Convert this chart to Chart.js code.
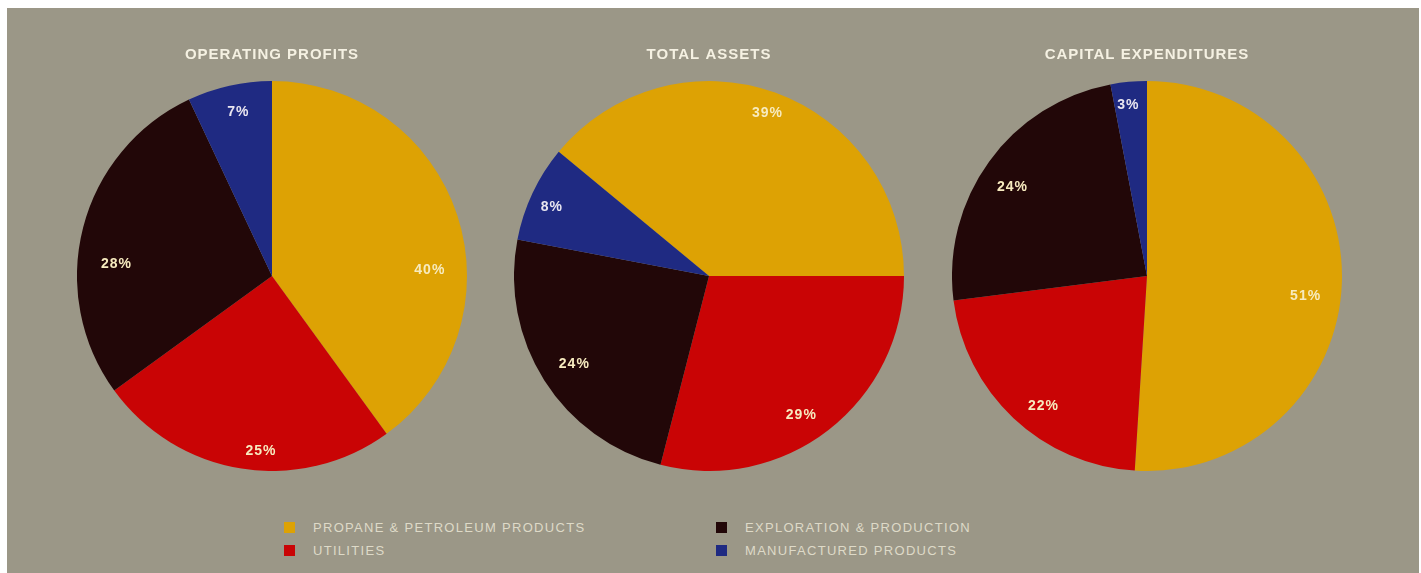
<!DOCTYPE html>
<html>
<head>
<meta charset="utf-8">
<script src="https://cdn.jsdelivr.net/npm/chart.js@4"></script>
<style>
  html, body { margin: 0; padding: 0; background: #ffffff; }
  body { width: 1421px; height: 573px; position: relative; overflow: hidden; font-family: "Liberation Sans", Arial, sans-serif; }
  #panel { position: absolute; left: 7px; top: 8px; width: 1412px; height: 565px; background: #9b9787; }
  .pie { position: absolute; top: 38px; width: 390px; height: 433px; }
  .legend { position: absolute; font-size: 13px; letter-spacing: 1.3px; color: #dedac8; line-height: 14px; white-space: nowrap; }
  .sw { position: absolute; width: 11px; height: 11px; }
</style>
</head>
<body>
<div id="panel"></div>
<div class="pie" style="left:77px"><canvas id="c1"></canvas></div>
<div class="pie" style="left:514px"><canvas id="c2"></canvas></div>
<div class="pie" style="left:952px"><canvas id="c3"></canvas></div>
<div id="legend"></div>
<script>
// ---- data ----
const categories = ["PROPANE & PETROLEUM PRODUCTS", "UTILITIES", "EXPLORATION & PRODUCTION", "MANUFACTURED PRODUCTS"];
const chartTitles = ["OPERATING PROFITS", "TOTAL ASSETS", "CAPITAL EXPENDITURES"];
const operatingProfits = [40, 25, 28, 7];
const totalAssets = [39, 29, 24, 8];
const capitalExpenditures = [51, 22, 24, 3];

// ---- style ----
const colors = ["#dda204", "#c90405", "#220708", "#1f2a82"];
const rotations = [0, -50.4, 0];
// label placement inside each slice: fraction along the slice's angle, fraction of radius
const labelStyles = [
  { frac: [0.61, 0.44, 0.40, 0.54], rad: [0.81, 0.90, 0.80, 0.86] },
  { frac: [0.50, 0.54, 0.49, 0.45], rad: [0.885, 0.855, 0.826, 0.88] },
  { frac: [0.53, 0.44, 0.47, 0.42], rad: [0.82, 0.854, 0.826, 0.88] }
];

const labelPlugin = {
  id: 'pctLabels',
  beforeDraw(chart) { chart.ctx.letterSpacing = '1px'; },
  afterDatasetsDraw(chart, args, opts) {
    const ctx = chart.ctx;
    const meta = chart.getDatasetMeta(0);
    const vals = chart.data.datasets[0].data;
    ctx.save();
    ctx.letterSpacing = '1px';
    ctx.font = '600 14px "Liberation Sans", Arial, sans-serif';
    ctx.textAlign = 'center';
    ctx.textBaseline = 'middle';
    meta.data.forEach((arc, i) => {
      const p = arc.getProps(['x', 'y', 'startAngle', 'endAngle', 'outerRadius'], true);
      const a = p.startAngle + (p.endAngle - p.startAngle) * opts.frac[i];
      const r = p.outerRadius * opts.rad[i];
      ctx.fillStyle = i === 3 ? '#e9e6f0' : '#f7ebbf';
      ctx.fillText(vals[i] + '%', p.x + Math.cos(a) * r, p.y + Math.sin(a) * r);
    });
    ctx.restore();
  }
};

function makePie(id, title, values, rotation, lstyle) {
  return new Chart(document.getElementById(id), {
    type: 'pie',
    data: {
      labels: categories,
      datasets: [{ data: values, backgroundColor: colors, borderWidth: 0, hoverOffset: 0, offset: 0 }]
    },
    options: {
      responsive: true,
      maintainAspectRatio: false,
      animation: false,
      rotation: rotation,
      layout: { padding: 0 },
      plugins: {
        legend: { display: false },
        tooltip: { enabled: false },
        pctLabels: lstyle,
        title: {
          display: true,
          text: title,
          color: '#f5f1e2',
          font: { family: '"Liberation Sans", Arial, sans-serif', size: 15, weight: 'bold', lineHeight: 1.2 },
          padding: { top: 8, bottom: 17 }
        }
      }
    },
    plugins: [labelPlugin]
  });
}

makePie('c1', chartTitles[0], operatingProfits, rotations[0], labelStyles[0]);
makePie('c2', chartTitles[1], totalAssets, rotations[1], labelStyles[1]);
makePie('c3', chartTitles[2], capitalExpenditures, rotations[2], labelStyles[2]);

// legend (HTML text)
const legendPos = [[284, 522], [284, 545], [716, 522], [716, 545]];
const lg = document.getElementById('legend');
categories.forEach((c, i) => {
  const sw = document.createElement('div');
  sw.className = 'sw';
  sw.style.left = legendPos[i][0] + 'px';
  sw.style.top = legendPos[i][1] + 'px';
  sw.style.background = colors[i];
  lg.appendChild(sw);
  const t = document.createElement('div');
  t.className = 'legend';
  t.style.left = (legendPos[i][0] + 29) + 'px';
  t.style.top = (legendPos[i][1] - 1) + 'px';
  t.textContent = c;
  lg.appendChild(t);
});
</script>
</body>
</html>
